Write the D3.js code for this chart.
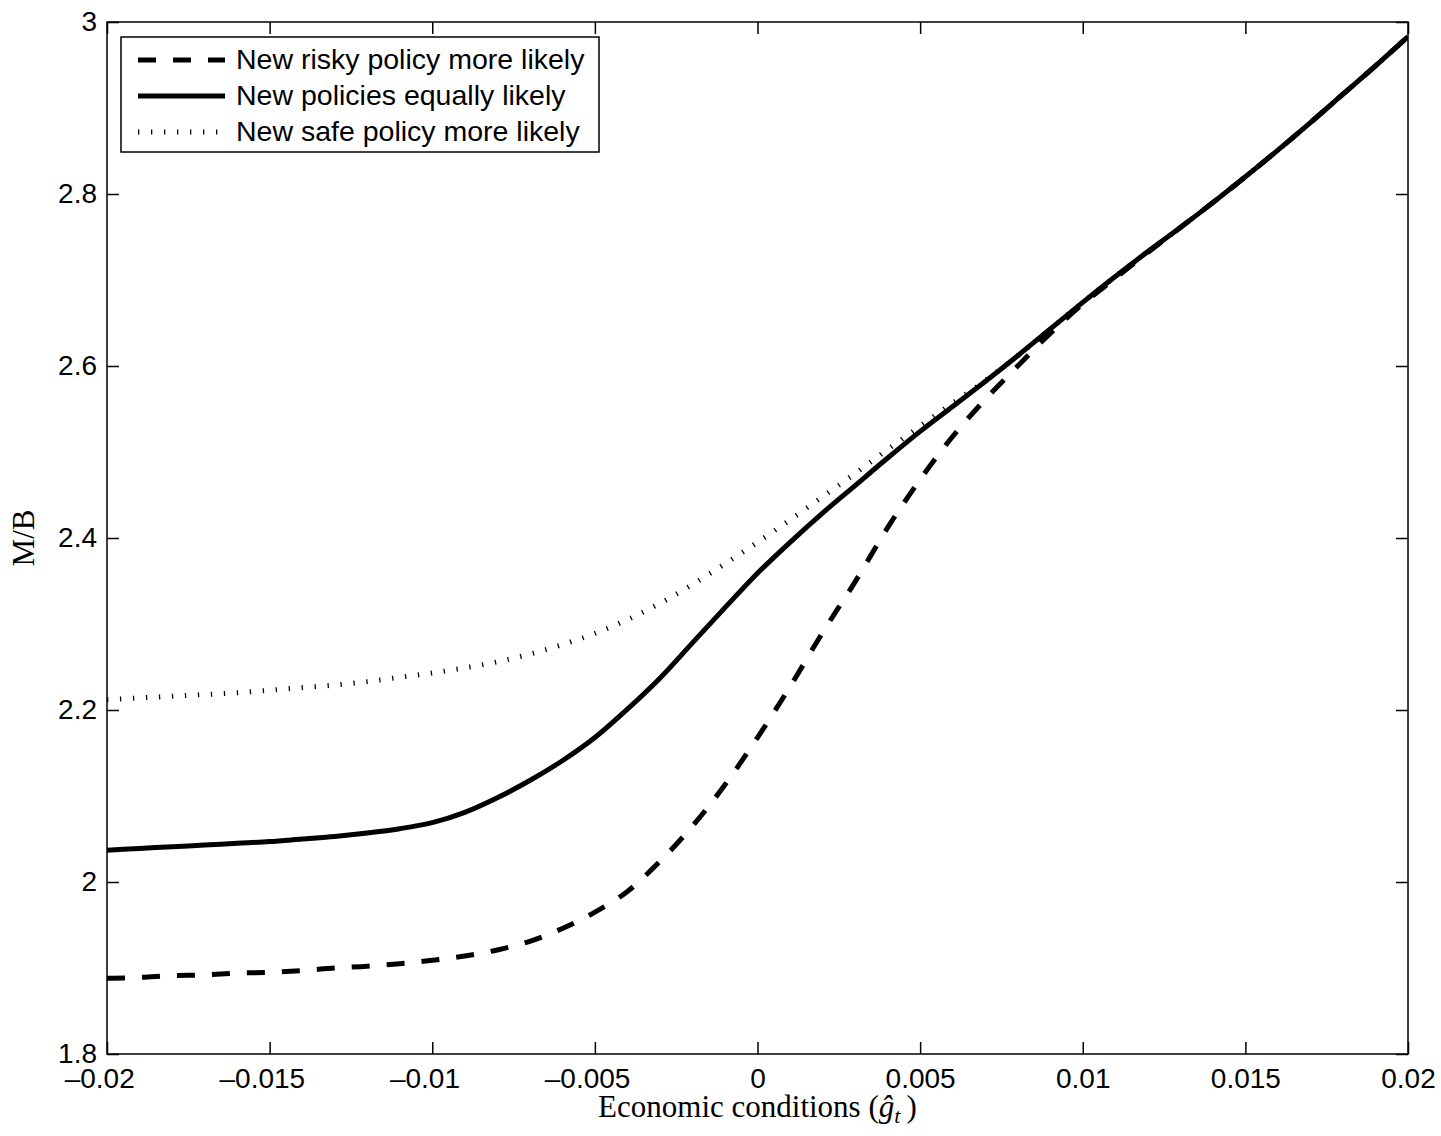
<!DOCTYPE html>
<html>
<head>
<meta charset="utf-8">
<script src="https://cdn.jsdelivr.net/npm/d3@7"></script>
<style>
  html, body { margin: 0; padding: 0; background: #fff; }
  svg { display: block; }
  .tick text { font-family: "Liberation Sans", Arial, Helvetica, sans-serif; font-size: 28px; fill: #000; }
  .axis-title { font-family: "Liberation Serif", "Times New Roman", serif; font-size: 31px; fill: #000; }
  .legend-text { font-family: "Liberation Sans", Arial, Helvetica, sans-serif; font-size: 28.5px; fill: #000; }
</style>
</head>
<body>
<svg id="chart" width="1441" height="1136"></svg>
<script>
// Economic conditions (g-hat) grid shared by all three series
const gValues = [
  -0.020, -0.019, -0.018, -0.017, -0.016, -0.015, -0.014, -0.013, -0.012, -0.011,
  -0.010, -0.009, -0.008, -0.007, -0.006, -0.005, -0.004, -0.003, -0.002, -0.001,
   0.000,  0.001,  0.002,  0.003,  0.004,  0.005,  0.006,  0.007,  0.008,  0.009,
   0.010,  0.011,  0.012,  0.013,  0.014,  0.015,  0.016,  0.017,  0.018,  0.019,
   0.020
];

// M/B when the new risky policy is more likely
const riskyMB = [
  1.888, 1.889, 1.891, 1.892, 1.894, 1.895, 1.897, 1.900, 1.902, 1.905,
  1.909, 1.914, 1.921, 1.931, 1.946, 1.965, 1.989, 2.024, 2.065, 2.113,
  2.168, 2.227, 2.290, 2.349, 2.412, 2.468, 2.518, 2.561, 2.600, 2.638,
  2.672, 2.702, 2.732, 2.761, 2.790, 2.820, 2.851, 2.883, 2.916, 2.949,
  2.983
];

// M/B when both new policies are equally likely
const equalMB = [
  2.037, 2.039, 2.041, 2.043, 2.045, 2.047, 2.050, 2.053, 2.057, 2.062,
  2.069, 2.081, 2.098, 2.118, 2.141, 2.168, 2.201, 2.237, 2.278, 2.319,
  2.359, 2.395, 2.429, 2.461, 2.493, 2.524, 2.553, 2.582, 2.612, 2.643,
  2.674, 2.704, 2.733, 2.761, 2.790, 2.820, 2.851, 2.883, 2.916, 2.949,
  2.983
];

// M/B when the new safe policy is more likely
const safeMB = [
  2.212, 2.214, 2.216, 2.218, 2.220, 2.223, 2.226, 2.229, 2.233, 2.238,
  2.243, 2.249, 2.256, 2.265, 2.276, 2.289, 2.305, 2.324, 2.346, 2.370,
  2.395, 2.421, 2.448, 2.475, 2.503, 2.530, 2.557, 2.583, 2.612, 2.643,
  2.674, 2.704, 2.733, 2.761, 2.790, 2.820, 2.851, 2.883, 2.916, 2.949,
  2.983
];

const seriesNames = [
  "New risky policy more likely",
  "New policies equally likely",
  "New safe policy more likely"
];

const xTickValues = [-0.02, -0.015, -0.01, -0.005, 0, 0.005, 0.01, 0.015, 0.02];
const xTickLabels = ["\u20130.02", "\u20130.015", "\u20130.01", "\u20130.005", "0", "0.005", "0.01", "0.015", "0.02"];
const yTickValues = [1.8, 2, 2.2, 2.4, 2.6, 2.8, 3];
const yTickLabels = ["1.8", "2", "2.2", "2.4", "2.6", "2.8", "3"];

const xTitle = "Economic conditions";
const yTitle = "M/B";

// ---- layout ----
const plot = { left: 107, top: 22, right: 1408, bottom: 1054 };
const tickLen = 12;

const svg = d3.select("#chart");

const x = d3.scaleLinear().domain([-0.02, 0.02]).range([plot.left, plot.right]);
const y = d3.scaleLinear().domain([1.8, 3]).range([plot.bottom, plot.top]);

// clip so curves stay inside the axes box
svg.append("defs").append("clipPath").attr("id", "plot-clip")
  .append("rect")
  .attr("x", plot.left).attr("y", plot.top)
  .attr("width", plot.right - plot.left).attr("height", plot.bottom - plot.top);

// ---- curves ----
const styles = [
  { values: riskyMB, width: 5, dash: "18 17" },
  { values: equalMB, width: 5, dash: null },
  { values: safeMB,  width: 5, dash: "1.3 11.7" }
];

const line = d3.line()
  .curve(d3.curveMonotoneX)
  .x(d => x(d[0]))
  .y(d => y(d[1]));

const curves = svg.append("g").attr("clip-path", "url(#plot-clip)");
styles.forEach(s => {
  const pts = gValues.map((g, i) => [g, s.values[i]]);
  curves.append("path")
    .datum(pts)
    .attr("d", line)
    .attr("fill", "none")
    .attr("stroke", "#000")
    .attr("stroke-width", s.width)
    .attr("stroke-linejoin", "round")
    .attr("stroke-dasharray", s.dash);
});

// ---- axes (MATLAB-style inward ticks on all four sides) ----
const xAxis = d3.axisBottom(x)
  .tickValues(xTickValues)
  .tickFormat((d, i) => xTickLabels[i])
  .tickSizeInner(-tickLen).tickSizeOuter(0).tickPadding(14);

const yAxis = d3.axisLeft(y)
  .tickValues(yTickValues)
  .tickFormat((d, i) => yTickLabels[i])
  .tickSizeInner(-tickLen).tickSizeOuter(0).tickPadding(10);

const gx = svg.append("g").attr("transform", `translate(0,${plot.bottom})`).call(xAxis);
const gy = svg.append("g").attr("transform", `translate(${plot.left},0)`).call(yAxis);

const gxTop = svg.append("g").attr("transform", `translate(0,${plot.top})`)
  .call(d3.axisTop(x).tickValues(xTickValues).tickFormat("").tickSizeInner(-tickLen).tickSizeOuter(0));
const gyRight = svg.append("g").attr("transform", `translate(${plot.right},0)`)
  .call(d3.axisRight(y).tickValues(yTickValues).tickFormat("").tickSizeInner(-tickLen).tickSizeOuter(0));

[gx, gy, gxTop, gyRight].forEach(g => {
  g.select(".domain").remove();
  g.selectAll(".tick line").attr("stroke", "#000").attr("stroke-width", 1.5);
  g.attr("font-family", null).attr("font-size", null);
});

// negative tick labels: centre the digits on the tick, letting the minus hang left
gx.selectAll(".tick text").each(function (d, i) {
  const label = xTickLabels[i];
  if (label.startsWith("\u2013")) {
    const t = d3.select(this);
    const full = this.getComputedTextLength();
    t.text(label.slice(1));
    const digits = this.getComputedTextLength();
    t.text(label);
    t.attr("x", -(full - digits) / 2);
  }
});

// axes box
svg.append("rect")
  .attr("x", plot.left).attr("y", plot.top)
  .attr("width", plot.right - plot.left).attr("height", plot.bottom - plot.top)
  .attr("fill", "none").attr("stroke", "#000").attr("stroke-width", 1.5);

// ---- axis titles ----
const xt = svg.append("text")
  .attr("class", "axis-title")
  .attr("x", (plot.left + plot.right) / 2)
  .attr("y", 1117)
  .attr("text-anchor", "middle");
xt.append("tspan").text(xTitle + " (");
xt.append("tspan").attr("font-style", "italic").text("\u011D");
xt.append("tspan").attr("font-style", "italic").attr("font-size", "22px").attr("dy", 6).text("t");
xt.append("tspan").attr("dy", -6).text("\u2009)");

svg.append("text")
  .attr("class", "axis-title")
  .attr("transform", `translate(34,${(plot.top + plot.bottom) / 2}) rotate(-90)`)
  .attr("text-anchor", "middle")
  .text(yTitle);

// ---- legend ----
const legend = svg.append("g");
legend.append("rect")
  .attr("x", 121).attr("y", 37)
  .attr("width", 478).attr("height", 115)
  .attr("fill", "#fff").attr("stroke", "#000").attr("stroke-width", 1.5);

const rowY = [60, 96, 132];
seriesNames.forEach((name, i) => {
  legend.append("line")
    .attr("x1", 138).attr("x2", 225)
    .attr("y1", rowY[i]).attr("y2", rowY[i])
    .attr("stroke", "#000")
    .attr("stroke-width", styles[i].width)
    .attr("stroke-dasharray", styles[i].dash);
  legend.append("text")
    .attr("class", "legend-text")
    .attr("x", 236)
    .attr("y", rowY[i] + 9)
    .text(name);
});
</script>
</body>
</html>
